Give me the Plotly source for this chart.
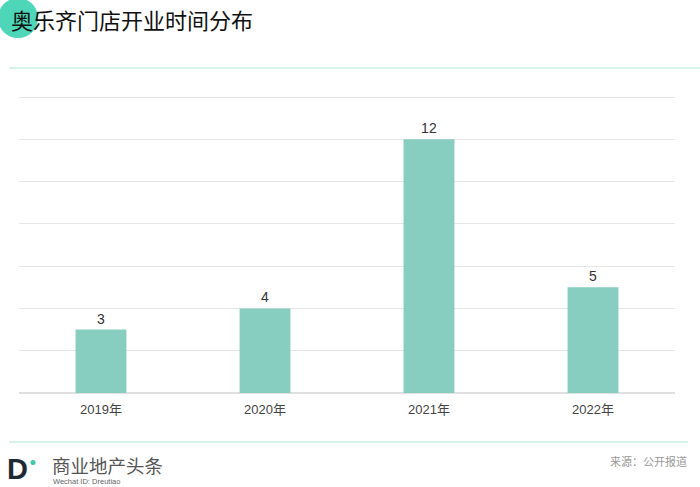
import plotly.graph_objects as go

categories = ["2019年", "2020年", "2021年", "2022年"]
values = [3, 4, 12, 5]
title_text = "奥乐齐门店开业时间分布"
source_text = "来源：公开报道"
brand_text = "商业地产头条"
brand_sub = "Wechat ID: Dreutiao"

W, H = 700, 487
L, R, T, B = 19, 25, 91, 94
PW, PH = W - L - R, H - T - B
YMAX = 14 * PH / 296.0

def px(x):
    return (x - L) / PW

def py(y):
    return (H - B - y) / PH

FONT = "Noto Sans CJK SC, Arial, sans-serif"

fig = go.Figure(go.Bar(
    x=categories, y=values, width=0.31,
    marker=dict(color="#87cdc0", line=dict(width=0)),
    text=[str(v) for v in values], textposition="outside",
    textfont=dict(size=14, color="#333333", family="Arial, sans-serif"),
    cliponaxis=False,
))

fig.update_layout(
    width=W, height=H,
    margin=dict(l=L, r=R, t=T, b=B),
    paper_bgcolor="white", plot_bgcolor="white",
    showlegend=False,
    font=dict(family=FONT),
    xaxis=dict(showgrid=False, showline=False, ticks="", ticklabelstandoff=7,
               tickfont=dict(size=13, color="#444444", family="Arial, Noto Sans CJK SC, sans-serif")),
    yaxis=dict(range=[0, YMAX], tickvals=[0, 2, 4, 6, 8, 10, 12, 14], showticklabels=False, showgrid=True,
               gridcolor="#e6e6e6", gridwidth=1, zeroline=True, zerolinecolor="#e0e0e0",
               zerolinewidth=1.5, showline=False),
)

shapes = [
    dict(type="circle", xref="paper", yref="paper",
         x0=px(-2), x1=px(38), y0=py(38), y1=py(-2),
         fillcolor="#4ed6b8", line=dict(width=0), layer="below"),
    dict(type="line", xref="paper", yref="paper",
         x0=px(9), x1=px(700), y0=py(68), y1=py(68),
         line=dict(color="#cdeee6", width=1.5)),
    dict(type="line", xref="paper", yref="paper",
         x0=px(9), x1=px(688), y0=py(442), y1=py(442),
         line=dict(color="#cdeee6", width=1.5)),
    dict(type="circle", xref="paper", yref="paper",
         x0=px(30.5), x1=px(35.5), y0=py(465), y1=py(460),
         fillcolor="#3cc9a9", line=dict(width=0)),
]

annotations = [
    dict(text=title_text, xref="paper", yref="paper", x=px(9), y=py(19),
         xanchor="left", yanchor="middle", showarrow=False,
         font=dict(size=22, color="#111111", family=FONT)),
    dict(text="<b>D</b>", xref="paper", yref="paper", x=px(5), y=py(469),
         xanchor="left", yanchor="middle", showarrow=False,
         font=dict(size=29, color="#1e2a33", family="Arial, sans-serif")),
    dict(text=brand_text, xref="paper", yref="paper", x=px(51), y=py(465),
         xanchor="left", yanchor="middle", showarrow=False, borderpad=0,
         font=dict(size=18.5, color="#555555", family=FONT)),
    dict(text=brand_sub, xref="paper", yref="paper", x=px(52), y=py(481.5),
         xanchor="left", yanchor="middle", showarrow=False, borderpad=0,
         font=dict(size=7.5, color="#666666", family="Arial, sans-serif")),
    dict(text=source_text, xref="paper", yref="paper", x=px(689), y=py(461),
         xanchor="right", yanchor="middle", showarrow=False,
         font=dict(size=11, color="#999999", family=FONT)),
]

fig.update_layout(shapes=shapes, annotations=annotations)
fig.write_html("out.html", config={"displayModeBar": False},
               post_script="document.body.style.margin='0';document.body.style.overflow='hidden';")
